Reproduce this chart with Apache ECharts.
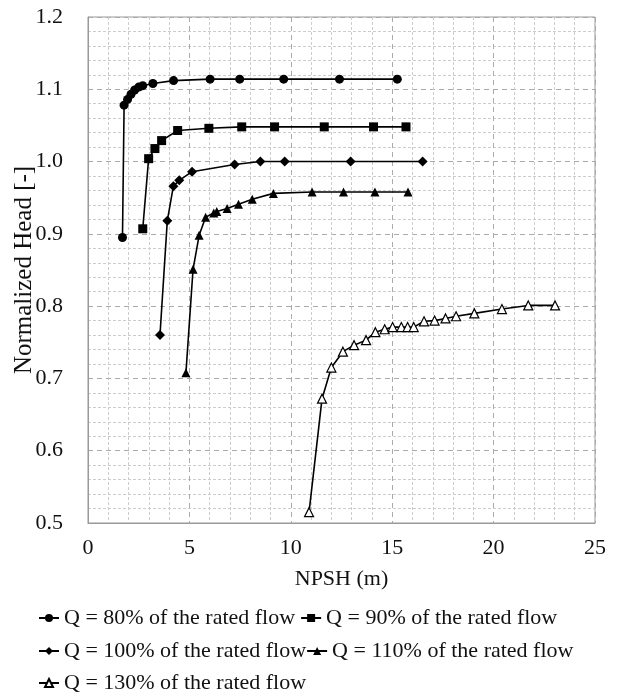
<!DOCTYPE html>
<html>
<head>
<meta charset="utf-8">
<script src="https://cdn.jsdelivr.net/npm/echarts@6/dist/echarts.min.js"></script>
<style>html,body{margin:0;padding:0;background:#fff;}#c{width:617px;height:697px;}</style>
</head>
<body>
<div id="c"></div>
<script>
const seriesNames = [
  'Q = 80% of the rated flow',
  'Q = 90% of the rated flow',
  'Q = 100% of the rated flow',
  'Q = 110% of the rated flow',
  'Q = 130% of the rated flow'
];
const q80 = [[1.7,0.895],[1.78,1.078],[1.95,1.086],[2.12,1.093],[2.3,1.099],[2.5,1.103],[2.7,1.105],[3.2,1.108],[4.22,1.112],[6.02,1.114],[7.48,1.114],[9.65,1.114],[12.4,1.114],[15.25,1.114]];
const q90 = [[2.7,0.907],[2.99,1.004],[3.3,1.018],[3.63,1.029],[4.42,1.043],[5.96,1.046],[7.58,1.048],[9.2,1.048],[11.65,1.048],[14.08,1.048],[15.68,1.048]];
const q100 = [[3.55,0.76],[3.91,0.918],[4.21,0.966],[4.5,0.974],[5.13,0.986],[7.23,0.996],[8.5,1.0],[9.7,1.0],[12.95,1.0],[16.5,1.0]];
const q110 = [[4.83,0.708],[5.18,0.851],[5.48,0.898],[5.8,0.923],[6.2,0.929],[6.35,0.931],[6.86,0.935],[7.42,0.941],[8.1,0.948],[9.14,0.956],[11.05,0.958],[12.6,0.958],[14.15,0.958],[15.78,0.958]];
const q130 = [[10.9,0.515],[11.54,0.672],[12.0,0.715],[12.57,0.737],[13.12,0.746],[13.71,0.753],[14.17,0.764],[14.63,0.768],[15.02,0.771],[15.45,0.771],[15.76,0.771],[16.06,0.771],[16.57,0.779],[17.09,0.780],[17.63,0.783],[18.15,0.786],[19.05,0.790],[20.41,0.796],[21.71,0.801],[23.03,0.801]];
const xTicks = {min:0, max:25, interval:5};
const yTicks = {min:0.5, max:1.2, interval:0.1};

const font = 'Liberation Serif';
const symbols = ['circle','rect','diamond','triangle','triangle'];
const sizes = [9,9,10,9,9];
const datas = [q80,q90,q100,q110,q130];

const series = datas.map((d,i)=>({
  name: seriesNames[i],
  type: 'line',
  data: d,
  symbol: symbols[i],
  symbolSize: sizes[i],
  showAllSymbol: true,
  smooth: false,
  lineStyle: {color:'#000', width:1.6},
  itemStyle: i===4 ? {color:'#fff', borderColor:'#000', borderWidth:1.2} : {color:'#000', borderColor:'#000', borderWidth:0},
  emphasis: {disabled:true},
  z: 3
}));

const legendBase = {
  orient:'horizontal',
  itemWidth: 20, itemHeight: 10,
  textStyle:{fontFamily:font, fontSize:22, color:'#111'},
  padding:0,
  selectedMode:false
};

const chart = echarts.init(document.getElementById('c'), null, {renderer:'canvas'});
chart.setOption({
  animation:false,
  backgroundColor:'#fff',
  grid:{left:88, right:22, top:17, bottom:174, containLabel:false, outerBoundsMode:'none', show:true, borderColor:'#999', borderWidth:1},
  legend:[
    Object.assign({}, legendBase, {left:38, top:607, itemGap:5, data:[seriesNames[0], seriesNames[1]]}),
    Object.assign({}, legendBase, {left:38, top:640, itemGap:0, data:[seriesNames[2], seriesNames[3]]}),
    Object.assign({}, legendBase, {left:38, top:672, itemGap:0, data:[seriesNames[4]]})
  ],
  xAxis:{
    type:'value', min:xTicks.min, max:xTicks.max, interval:xTicks.interval,
    name:'NPSH (m)', nameLocation:'middle', nameGap:45, nameMoveOverlap:false,
    nameTextStyle:{fontFamily:font, fontSize:22, color:'#111'},
    axisLine:{show:true, lineStyle:{color:'#999'}},
    axisTick:{show:false},
    axisLabel:{fontFamily:font, fontSize:22, color:'#111', margin:14},
    splitLine:{show:true, lineStyle:{color:'#aaa', type:[5,4], width:1}},
    minorTick:{show:false, splitNumber:5},
    minorSplitLine:{show:true, lineStyle:{color:'#ccc', type:[3,2], width:1}}
  },
  yAxis:{
    type:'value', min:yTicks.min, max:yTicks.max, interval:yTicks.interval,
    name:'Normalized Head [-]', nameLocation:'middle', nameGap:51, nameMoveOverlap:false,
    nameTextStyle:{fontFamily:font, fontSize:25, color:'#111'},
    axisLine:{show:true, lineStyle:{color:'#999'}},
    axisTick:{show:false},
    axisLabel:{fontFamily:font, fontSize:22, color:'#111', margin:25, formatter:v=>v.toFixed(1)},
    splitLine:{show:true, lineStyle:{color:'#aaa', type:[5,4], width:1}},
    minorTick:{show:false, splitNumber:5},
    minorSplitLine:{show:true, lineStyle:{color:'#ccc', type:[3,2], width:1}}
  },
  series: series
});
</script>
</body>
</html>
